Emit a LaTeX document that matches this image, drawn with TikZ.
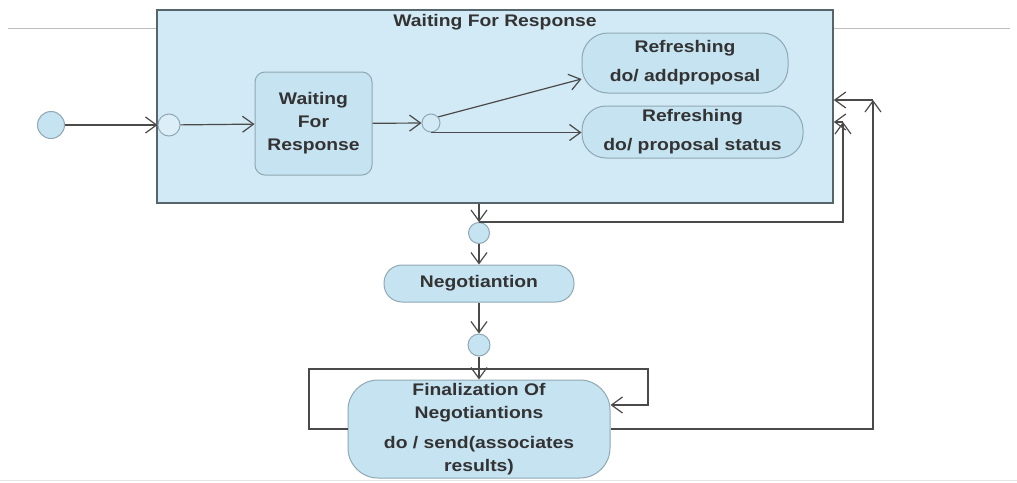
\documentclass[tikz,border=0pt]{standalone}
\usepackage{fontspec}
\setmainfont{Liberation Sans}[FakeStretch=1.15]
\usetikzlibrary{arrows.meta,calc}

\definecolor{boxfill}{HTML}{D2EAF5}
\definecolor{boxline}{HTML}{56656B}
\definecolor{statefill}{HTML}{C6E3F1}
\definecolor{stateline}{HTML}{8FA8B3}
\definecolor{entryfill}{HTML}{DCEFF8}
\definecolor{lineclr}{HTML}{4A4A4A}
\definecolor{txt}{HTML}{333333}
\definecolor{poolline}{HTML}{BDBDBD}

\begin{document}
\begin{tikzpicture}[x=1pt,y=-1pt,
  every node/.style={font=\fontsize{16.8}{23}\selectfont\bfseries, text=txt},
  umlstate/.style={draw=stateline, fill=statefill, line width=1pt,
    rounded corners=#1, inner sep=0pt, align=center},
  pseudo/.style={circle, draw=stateline, fill=statefill, line width=1pt,
    inner sep=0pt, minimum size=#1},
  conn/.style={draw=lineclr, line width=1.2pt,
    -{Straight Barb[length=11pt,width=16pt,line width=1.2pt]}}
]
\useasboundingbox (0,0) rectangle (1017,482);

% pool separators
\draw[poolline, line width=1pt] (8,28) -- (1010,28);
\draw[black!10, line width=0.8pt] (0,480) -- (1017,480);

% composite state
\node[draw=boxline, fill=boxfill, line width=1.6pt, minimum width=676pt,
      minimum height=193pt, inner sep=0pt] (box) at (495,106.5) {};
\node[anchor=base] (title) at (495,26) {Waiting For Response};

% inner states
\node[umlstate=10pt, minimum width=117pt, minimum height=103pt] (wait)
  at (313.5,123.5) {Waiting\\For\\Response};
\node[umlstate=26pt, minimum width=206pt, minimum height=60pt] (ref1)
  at (685,63) {Refreshing\\[6pt]do/ addproposal};
\node[umlstate=24pt, minimum width=221pt, minimum height=52pt] (ref2)
  at (692.5,132) {Refreshing\\[6pt]do/ proposal status};

% outer states
\node[umlstate=18pt, minimum width=190pt, minimum height=37pt] (neg)
  at (479,283.5) {Negotiantion};
\node[umlstate=30pt, minimum width=262pt, minimum height=98pt] (fin)
  at (479,429) {Finalization Of\\Negotiantions\\[7pt]do / send(associates\\results)};

% pseudo states
\node[pseudo=27pt] (init) at (51,125) {};
\node[pseudo=22pt, fill=entryfill] (entry) at (169,125) {};
\node[pseudo=18pt, fill=boxfill] (fork) at (431,123) {};
\node[pseudo=21pt] (c1) at (479,233) {};
\node[pseudo=22pt] (c2) at (479,345) {};

% helper points for the routed connectors
\coordinate (yR1) at (0,79);
\coordinate (rjA) at (873,100);
\coordinate (rjB) at (843,122);
\coordinate (lpL) at (309,369);
\coordinate (lpR) at (648,369);
\coordinate (yLoop) at (0,405);

% transitions inside the composite state
\draw[conn] (init) -- (entry);
\draw[conn] (entry) -- (wait);
\draw[conn] (wait) -- (fork);
\draw[conn] (fork.40) -- (ref1.west |- yR1);
\draw[conn] (fork.south) -- (fork.south -| ref2.west);

% leaving and re-entering the composite state
\draw[conn] (c1.north |- box.south) -- (c1.north);
\draw[conn] (c1.north) -| (rjB);
\draw[conn] (rjB) -- (box.east |- rjB);
\draw[conn] (c1) -- (neg);
\draw[conn] (neg) -- (c2);
\draw[conn] (c2) -- (fin);

% self loop on finalization
\draw[conn] (fin.west) -| (lpL) -- (lpR) |- (fin.east |- yLoop);

% back to the composite state
\draw[conn] (fin.east) -| (rjA);
\draw[conn] (rjA) -- (box.east |- rjA);
\end{tikzpicture}
\end{document}
